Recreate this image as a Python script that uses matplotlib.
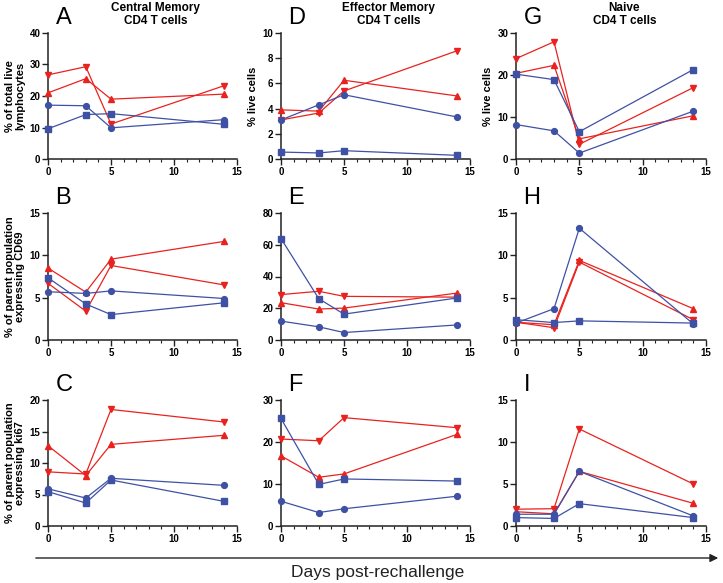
import matplotlib
matplotlib.use("Agg")
import matplotlib.pyplot as plt
from matplotlib.ticker import MultipleLocator

RED, BLUE, INK = "#e8231f", "#3f51a5", "#222222"
plt.rcParams.update({"font.family": ["Liberation Sans", "DejaVu Sans"]})

DAYS = [0, 3, 5, 14]

# each panel: [red down-tri, red up-tri, blue circle, blue square]
A = [[26.7, 29.3, 11.1, 23.3], [21.0, 25.5, 19.0, 20.6],
     [17.1, 16.9, 9.9, 12.5], [9.6, 14.1, 14.4, 11.0]]
B = [[6.7, 3.4, 8.8, 6.5], [8.5, 5.65, 9.55, 11.65],
     [5.7, 5.5, 5.8, 4.9], [7.35, 4.25, 3.0, 4.4]]
C = [[8.6, 8.25, 18.5, 16.5], [12.75, 8.0, 12.96, 14.4],
     [5.9, 4.44, 7.57, 6.45], [5.45, 3.65, 7.3, 3.9]]
D = [[3.1, 3.65, 5.4, 8.6], [3.9, 3.8, 6.25, 5.0],
     [3.1, 4.3, 5.1, 3.33], [0.55, 0.48, 0.66, 0.29]]
E = [[28.6, 30.7, 27.5, 27.0], [23.5, 19.5, 20.1, 29.6],
     [11.9, 8.3, 4.7, 9.5], [63.9, 26.0, 16.3, 26.5]]
F = [[20.7, 20.3, 25.8, 23.4], [16.7, 11.6, 12.4, 21.85],
     [5.9, 3.2, 4.1, 7.1], [25.6, 9.9, 11.2, 10.7]]
G = [[23.9, 27.9, 3.5, 17.0], [20.4, 22.3, 4.8, 10.3],
     [8.2, 6.7, 1.4, 11.4], [20.2, 18.9, 6.5, 21.3]]
H = [[2.1, 1.45, 9.2, 2.4], [2.1, 1.8, 9.4, 3.7],
     [2.0, 3.7, 13.2, 1.9], [2.4, 2.06, 2.26, 2.0]]
I = [[2.0, 2.06, 11.55, 5.0], [1.7, 1.45, 6.5, 2.7],
     [1.4, 1.4, 6.5, 1.2], [1.0, 0.9, 2.66, 1.0]]

PANELS = [("A", A, 40, 10), ("D", D, 10, 2), ("G", G, 30, 10),
          ("B", B, 15, 5), ("E", E, 80, 20), ("H", H, 15, 5),
          ("C", C, 20, 5), ("F", F, 30, 10), ("I", I, 15, 5)]
TITLES = ["Central Memory\nCD4 T cells", "Effector Memory\nCD4 T cells",
          "Naive\nCD4 T cells"]
YLABELS = {"A": "% of total live\nlymphocytes", "D": "% live cells",
           "G": "% live cells",
           "B": "% of parent population\nexpressing CD69",
           "C": "% of parent population\nexpressing ki67"}
STYLE = [(RED, "v"), (RED, "^"), (BLUE, "o"), (BLUE, "s")]

W, H_ = 723, 583
COLS = [(48, 237), (281, 470), (516, 706)]
ROWS = [(33, 159), (213, 340), (400, 526)]

fig = plt.figure(figsize=(W / 100, H_ / 100), dpi=100)
for i, (letter, data, ymax, ystep) in enumerate(PANELS):
    r, c = divmod(i, 3)
    x0, x1 = COLS[c]
    t, b = ROWS[r]
    ax = fig.add_axes([x0 / W, 1 - b / H_, (x1 - x0) / W, (b - t) / H_])
    for (col, mk), ys in zip(STYLE, data):
        ax.plot(DAYS, ys, color=col, marker=mk, ms=4.2, lw=0.9,
                clip_on=False, zorder=3)
    ax.set_xlim(0, 15)
    ax.set_ylim(0, ymax)
    ax.xaxis.set_major_locator(MultipleLocator(5))
    ax.xaxis.set_minor_locator(MultipleLocator(1))
    ax.yaxis.set_major_locator(MultipleLocator(ystep))
    for s in ("top", "right"):
        ax.spines[s].set_visible(False)
    for s in ("left", "bottom"):
        ax.spines[s].set_linewidth(1.1)
        ax.spines[s].set_color(INK)
    ax.tick_params(which="major", length=4, width=1.0, color=INK,
                   labelsize=7, pad=1.5)
    ax.tick_params(which="minor", length=2.3, width=0.8, color=INK)
    for lab in ax.get_xticklabels() + ax.get_yticklabels():
        lab.set_fontweight("bold")
    if letter in YLABELS:
        ax.set_ylabel(YLABELS[letter], fontsize=8, fontweight="bold",
                      labelpad=3, linespacing=1.1)
    ax.text(0.04, 1.035, letter, transform=ax.transAxes, fontsize=17,
            ha="left", va="bottom")
    if r == 0:
        ax.text(0.57, 1.05, TITLES[c], transform=ax.transAxes, fontsize=8.5,
                fontweight="bold", ha="center", va="bottom", linespacing=1.1)

# shared x-axis arrow and label
fig.add_artist(matplotlib.patches.FancyArrowPatch(
    (33 / W, 1 - 558 / H_), (721 / W, 1 - 558 / H_),
    transform=fig.transFigure, arrowstyle="-|>", mutation_scale=12,
    color=INK, lw=1.0))
fig.text(378 / W, 1 - 573 / H_, "Days post-rechallenge", fontsize=12.5,
         ha="center", va="center", color=INK)

fig.savefig("out.png", dpi=100)
